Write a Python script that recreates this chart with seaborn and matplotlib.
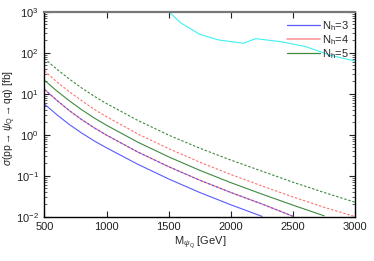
import numpy as np
import pandas as pd
import matplotlib
matplotlib.use('Agg')
import matplotlib.pyplot as plt
import seaborn as sns
from matplotlib.lines import Line2D
from matplotlib.ticker import LogLocator, LogFormatterMathtext, MultipleLocator, NullFormatter

# masses (GeV)
mass = [500, 600, 700, 800, 900, 1000, 1250, 1500, 1750, 2000, 2250, 2500, 2750, 3000]

# cross sections [fb]
sigma_n3_solid = [5.62, 3.09, 1.78, 1.10, 0.708, 0.479, 0.191, 0.0832, 0.0389, 0.0195, 0.0102]
sigma_n4_solid = [12.9, 6.92, 3.89, 2.34, 1.48, 0.977, 0.380, 0.166, 0.0776, 0.0389, 0.0204, 0.0102]
sigma_n3_dashed = sigma_n4_solid
sigma_n5_solid = [21.4, 11.7, 6.76, 4.07, 2.57, 1.70, 0.661, 0.288, 0.135, 0.0676, 0.0355, 0.0191, 0.0105]
sigma_n4_dashed = [36.3, 19.5, 11.2, 6.76, 4.17, 2.75, 1.05, 0.457, 0.214, 0.107, 0.0562, 0.0302, 0.0170, 0.0100]
sigma_n5_dashed = [72.4, 39.8, 22.9, 13.8, 8.71, 5.75, 2.24, 0.977, 0.468, 0.240, 0.129, 0.0692, 0.0389, 0.0224]

# experimental limit
limit_mass = [1500, 1600, 1750, 1900, 2100, 2200, 2400, 2600, 2800, 3000]
limit_sigma = [1000, 525, 280, 205, 170, 220, 186, 141, 87, 62]

labels = ['N$_\\mathregular{h}$=3', 'N$_\\mathregular{h}$=4', 'N$_\\mathregular{h}$=5']
blue, red, green, cyan = '#5a5aff', '#ff7070', '#3f8a3f', '#40f0f0'

sns.set_style('ticks')
plt.rcParams['font.family'] = ['Liberation Sans', 'DejaVu Sans']
plt.rcParams['mathtext.fontset'] = 'custom'
plt.rcParams['mathtext.rm'] = 'Liberation Sans'
plt.rcParams['mathtext.it'] = 'Liberation Sans:italic'
plt.rcParams['mathtext.sf'] = 'Liberation Sans'

fig = plt.figure(figsize=(3.74, 2.61), dpi=100)
ax = fig.add_axes([0.1185, 0.1697, 0.8315, 0.7855])

dash = (2.2, 1.6)
curves = [
    (sigma_n5_dashed, green, dash),
    (sigma_n4_dashed, red, dash),
    (sigma_n5_solid, green, None),
    (sigma_n4_solid, red, None),
    (sigma_n3_dashed, blue, dash),
    (sigma_n3_solid, blue, None),
]
for vals, col, d in curves:
    line = sns.lineplot(x=mass[:len(vals)], y=vals, ax=ax, color=col, lw=0.8)
    if d is not None:
        line.lines[-1].set_dashes(d)

sns.lineplot(x=limit_mass, y=limit_sigma, ax=ax, color=cyan, lw=0.8)

ax.set_yscale('log')
ax.set_xlim(500, 3000)
ax.set_ylim(1e-2, 1e3)
ax.xaxis.set_major_locator(MultipleLocator(500))
ax.yaxis.set_major_locator(LogLocator(base=10, numticks=10))
ax.yaxis.set_major_formatter(LogFormatterMathtext())
ax.yaxis.set_minor_locator(LogLocator(base=10, subs=np.arange(2, 10), numticks=20))
ax.yaxis.set_minor_formatter(NullFormatter())

ax.tick_params(which='both', direction='in', top=True, right=True, labelsize=8, colors='#222222')
ax.tick_params(which='major', length=4, width=0.8, pad=4)
ax.tick_params(which='minor', length=2, width=0.5)
for side in ['left', 'bottom', 'right']:
    ax.spines[side].set_linewidth(1.0)
    ax.spines[side].set_color('black')
ax.spines['top'].set_linewidth(1.6)
ax.spines['top'].set_color('#777777')

ax.set_xlabel('M$_{\\psi_\\mathregular{Q}}$ [GeV]', fontsize=8, labelpad=2)
ax.set_ylabel('$\\sigma$(pp$\\rightarrow\\psi_\\mathregular{Q}\\rightarrow$qq) [fb]', fontsize=7.5)
ax.yaxis.set_label_coords(-0.084, 0.48)

handles = [Line2D([], [], color=blue, lw=0.9),
           Line2D([], [], color='#ff9999', lw=1.2),
           Line2D([], [], color=green, lw=0.9)]
ax.legend(handles, labels, loc='upper right', bbox_to_anchor=(1.0, 0.995), frameon=False,
          fontsize=8, handlelength=3.0, handletextpad=0.1, labelspacing=0.0,
          borderaxespad=0.2)

fig.savefig('out.png', dpi=100)
